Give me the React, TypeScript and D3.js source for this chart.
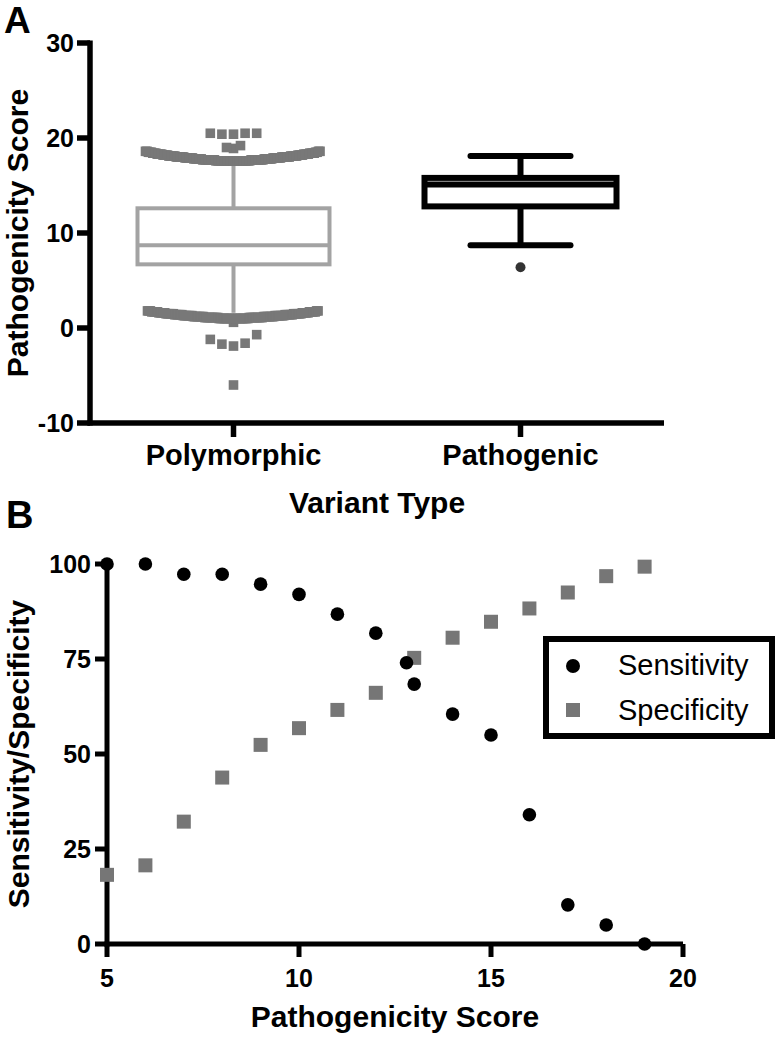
import React from "react";
import * as d3 from "d3";

// ---- panel A data (box plot) ----
const categories = ["Polymorphic", "Pathogenic"];
const boxQ1 = [6.7, 12.8];
const boxMedian = [8.7, 15.1];
const boxQ3 = [12.6, 15.8];
const whiskerLow = [1.6, 8.7];
const whiskerHigh = [17.5, 18.1];

// polymorphic outliers, grouped as GraphPad stacks them
const polyTopRow = [20.4, 20.5, 20.5, 20.5, 20.4];
const polyBump = [18.9, 19.0, 19.2];
const polyUpperBandValues = [17.6, 17.7, 17.8, 17.9, 18.0, 18.1, 18.2, 18.3, 18.4, 18.5, 18.6];
const polyUpperBandCounts = [24, 18, 12, 12, 12, 10, 8, 8, 7, 5, 4];
const polyLowerBandValues = [0.6, 1.0, 1.1, 1.2, 1.3, 1.4, 1.5, 1.6, 1.7, 1.8];
const polyLowerBandCounts = [1, 20, 20, 16, 14, 12, 12, 10, 10, 5];
const polyDip = [-1.9, -1.7, -1.6, -1.2, -0.7];
const polyLow = [-6.0];
const pathogenicOutliers = [6.4];

const yTicksA = [-10, 0, 10, 20, 30];

// ---- panel B data ----
const sensX = [5, 6, 7, 8, 9, 10, 11, 12, 12.8, 13, 14, 15, 16, 17, 18, 19];
const sensY = [100, 100, 97.3, 97.3, 94.7, 92, 86.8, 81.8, 74, 68.4, 60.5, 55, 34, 10.3, 5, 0];
const specX = [5, 6, 7, 8, 9, 10, 11, 12, 13, 14, 15, 16, 17, 18, 19];
const specY = [18.2, 20.7, 32.2, 43.8, 52.4, 56.8, 61.6, 66.1, 75.3, 80.6, 84.8, 88.3, 92.5, 96.8, 99.3];
const xTicksB = [5, 10, 15, 20];
const yTicksB = [0, 25, 50, 75, 100];

const FONT = "'Liberation Sans', Arial, Helvetica, sans-serif";

const expand = (vals: number[], counts: number[]) =>
  vals.flatMap((v, i) => Array(counts[i]).fill(v));

// sort ascending, put first at centre, then alternate left/right
const spread = (vals: number[], step: number) =>
  [...vals]
    .sort((a, b) => a - b)
    .map((v, k) => ({
      v,
      dx: k === 0 ? 0 : Math.ceil(k / 2) * step * (k % 2 === 1 ? -1 : 1),
    }));

export default function App() {
  // panel A scales
  const xA = d3.scalePoint<string>().domain(categories).range([90, 664]).padding(0.5);
  const yA = d3.scaleLinear().domain([-10, 30]).range([423, 43]);
  const boxW = 192;

  const upperBand = expand(polyUpperBandValues, polyUpperBandCounts);
  const lowerBand = expand(polyLowerBandValues, polyLowerBandCounts);
  const polyPts = [
    ...spread(upperBand, 176 / upperBand.length),
    ...spread(lowerBand, 172 / lowerBand.length),
    ...spread(polyTopRow, 11.6),
    ...spread(polyBump, 7),
    ...spread(polyDip, 11.6),
    ...spread(polyLow, 11.6),
  ];

  // panel B scales
  const xB = d3.scaleLinear().domain([5, 20]).range([107, 683]);
  const yB = d3.scaleLinear().domain([0, 100]).range([944, 564]);

  const boxColor = ["#a3a3a3", "#000"];
  const boxStroke = [4, 6];

  return (
    <svg
      width={779}
      height={1039}
      style={{ position: "absolute", left: 0, top: 0, background: "#fff" }}
      fontFamily={FONT}
    >
      <rect width={779} height={1039} fill="#fff" />
      {/* ---------- Panel A ---------- */}
      <text x={4} y={33} fontSize={37} fontWeight="bold">A</text>

      {categories.map((c, i) => {
        const cx = xA(c)!;
        const col = boxColor[i];
        const sw = boxStroke[i];
        const cap = i === 1;
        return (
          <g key={c} stroke={col} strokeWidth={sw} fill="none">
            <line x1={cx} x2={cx} y1={yA(boxQ3[i])} y2={yA(whiskerHigh[i])} />
            <line x1={cx} x2={cx} y1={yA(boxQ1[i])} y2={yA(whiskerLow[i])} />
            {cap && (
              <>
                <line x1={cx - 50} x2={cx + 50} y1={yA(whiskerHigh[i])} y2={yA(whiskerHigh[i])} strokeLinecap="round" />
                <line x1={cx - 50} x2={cx + 50} y1={yA(whiskerLow[i])} y2={yA(whiskerLow[i])} strokeLinecap="round" />
              </>
            )}
            <rect
              x={cx - boxW / 2}
              y={yA(boxQ3[i])}
              width={boxW}
              height={yA(boxQ1[i]) - yA(boxQ3[i])}
              fill="#fff"
            />
            <line x1={cx - boxW / 2} x2={cx + boxW / 2} y1={yA(boxMedian[i])} y2={yA(boxMedian[i])} />
          </g>
        );
      })}

      <g fill="#787878">
        {polyPts.map((p, i) => (
          <rect key={i} x={xA("Polymorphic")! + p.dx - 4.8} y={yA(p.v) - 4.8} width={9.6} height={9.6} />
        ))}
      </g>
      <g fill="#333">
        {pathogenicOutliers.map((v, i) => (
          <circle key={i} cx={xA("Pathogenic")!} cy={yA(v)} r={5} />
        ))}
      </g>

      {/* axes A */}
      <g stroke="#000" strokeWidth={5.5}>
        <line x1={90} x2={90} y1={yA(30) - 2.5} y2={yA(-10) + 2.5} />
        <line x1={87.5} x2={664} y1={yA(-10)} y2={yA(-10)} />
        {yTicksA.map((t) => (
          <line key={t} x1={77} x2={90} y1={yA(t)} y2={yA(t)} />
        ))}
        {categories.map((c) => (
          <line key={c} x1={xA(c)!} x2={xA(c)!} y1={yA(-10)} y2={yA(-10) + 14} />
        ))}
      </g>
      <g fontSize={25} fontWeight="bold" textAnchor="end">
        {yTicksA.map((t) => (
          <text key={t} x={74} y={yA(t) + 9}>{t}</text>
        ))}
      </g>
      <g fontSize={29} fontWeight="bold" textAnchor="middle">
        {categories.map((c) => (
          <text key={c} x={xA(c)!} y={465}>{c}</text>
        ))}
      </g>
      <text x={377} y={513} fontSize={30} fontWeight="bold" textAnchor="middle">Variant Type</text>
      <text
        transform={`translate(28,${(yA(30) + yA(-10)) / 2}) rotate(-90)`}
        fontSize={30}
        fontWeight="bold"
        textAnchor="middle"
      >
        Pathogenicity Score
      </text>

      {/* ---------- Panel B ---------- */}
      <text x={6} y={528} fontSize={38} fontWeight="bold">B</text>

      <g stroke="#000" strokeWidth={5}>
        <line x1={107} x2={107} y1={yB(100)} y2={yB(0) + 2.5} />
        <line x1={104.5} x2={683} y1={yB(0)} y2={yB(0)} />
        {yTicksB.map((t) => (
          <line key={t} x1={95} x2={107} y1={yB(t)} y2={yB(t)} />
        ))}
        {xTicksB.map((t) => (
          <line key={t} x1={xB(t)} x2={xB(t)} y1={yB(0)} y2={yB(0) + 13} />
        ))}
      </g>

      <g fill="#767676">
        {specX.map((x, i) => (
          <rect key={i} x={xB(x) - 7} y={yB(specY[i]) - 7} width={14} height={14} />
        ))}
      </g>
      <g fill="#000">
        {sensX.map((x, i) => (
          <circle key={i} cx={xB(x)} cy={yB(sensY[i])} r={6.8} />
        ))}
      </g>

      <g fontSize={25} fontWeight="bold" textAnchor="end">
        {yTicksB.map((t) => (
          <text key={t} x={91} y={yB(t) + 9}>{t}</text>
        ))}
      </g>
      <g fontSize={25} fontWeight="bold" textAnchor="middle">
        {xTicksB.map((t) => (
          <text key={t} x={xB(t)} y={987}>{t}</text>
        ))}
      </g>
      <text x={395} y={1027} fontSize={30} fontWeight="bold" textAnchor="middle">Pathogenicity Score</text>
      <text
        transform={`translate(29,${(yB(0) + yB(100)) / 2}) rotate(-90)`}
        fontSize={30}
        fontWeight="bold"
        textAnchor="middle"
      >
        Sensitivity/Specificity
      </text>

      {/* legend */}
      <rect x={546} y={639} width={226} height={97} fill="#fff" stroke="#000" strokeWidth={6} />
      <circle cx={573} cy={666} r={7} fill="#000" />
      <rect x={566} y={703} width={14} height={14} fill="#767676" />
      <text x={618} y={675} fontSize={29}>Sensitivity</text>
      <text x={618} y={720} fontSize={29}>Specificity</text>
    </svg>
  );
}
